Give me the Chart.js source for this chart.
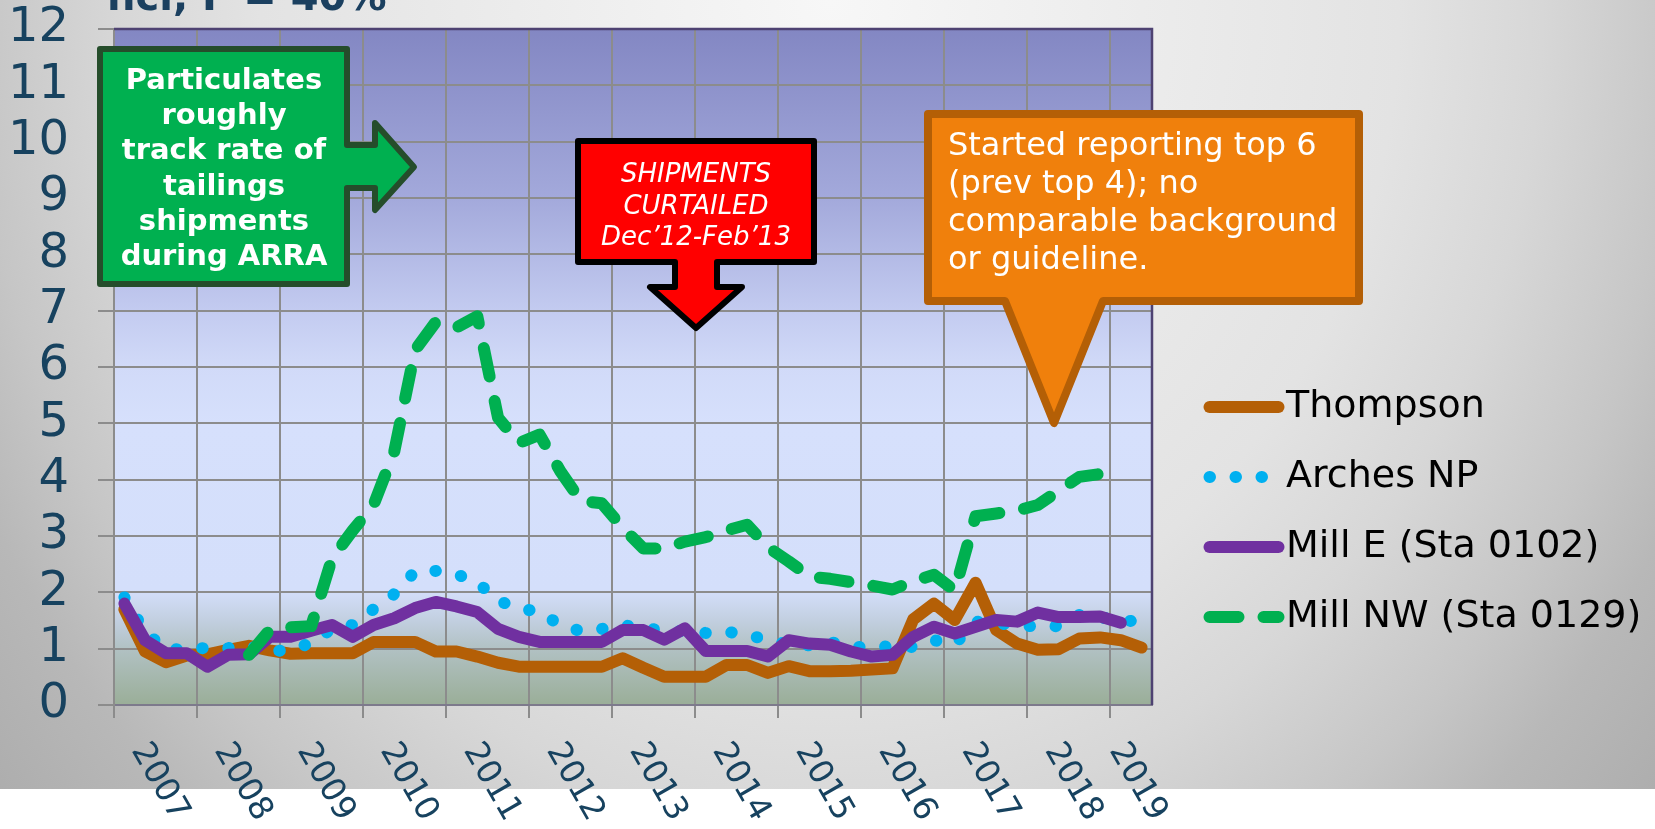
<!DOCTYPE html>
<html>
<head>
<meta charset="utf-8">
<title>Particulates vs tailings shipments</title>
<script src="https://cdn.jsdelivr.net/npm/chart.js@4.4.1/dist/chart.umd.min.js"></script>
<style>
  html, body { margin: 0; padding: 0; background: #fff; }
  #wrap { width: 1655px; height: 829px; }
</style>
</head>
<body>
<div id="wrap"><canvas id="chart" width="1655" height="829"></canvas></div>
<script>
// quarterly samples, plotted at mid-quarter
const quarters = [
  '2007 Q1', '2007 Q2', '2007 Q3', '2007 Q4',
  '2008 Q1', '2008 Q2', '2008 Q3', '2008 Q4',
  '2009 Q1', '2009 Q2', '2009 Q3', '2009 Q4',
  '2010 Q1', '2010 Q2', '2010 Q3', '2010 Q4',
  '2011 Q1', '2011 Q2', '2011 Q3', '2011 Q4',
  '2012 Q1', '2012 Q2', '2012 Q3', '2012 Q4',
  '2013 Q1', '2013 Q2', '2013 Q3', '2013 Q4',
  '2014 Q1', '2014 Q2', '2014 Q3', '2014 Q4',
  '2015 Q1', '2015 Q2', '2015 Q3', '2015 Q4',
  '2016 Q1', '2016 Q2', '2016 Q3', '2016 Q4',
  '2017 Q1', '2017 Q2', '2017 Q3', '2017 Q4',
  '2018 Q1', '2018 Q2', '2018 Q3', '2018 Q4',
  '2019 Q1', '2019 Q2'
];
const yearLabels = ['2007', '2008', '2009', '2010', '2011', '2012', '2013',
  '2014', '2015', '2016', '2017', '2018', '2019'];

const thompson = [
  1.70, 0.95, 0.76, 0.88,  0.90, 0.98, 1.05, 0.97,
  0.91, 0.92, 0.92, 0.92,  1.12, 1.12, 1.12, 0.95,
  0.95, 0.86, 0.75, 0.68,  0.68, 0.68, 0.68, 0.68,
  0.83, 0.66, 0.50, 0.50,  0.50, 0.71, 0.71, 0.57,
  0.69, 0.60, 0.60, 0.61,  0.63, 0.65, 1.52, 1.80,
  1.51, 2.17, 1.33, 1.09,  0.98, 0.99, 1.18, 1.20,
  1.15, 1.02
];
const archesNP = [
  1.91, 1.30, 0.98, 1.00,  1.01, 1.01, 1.05, 0.95,
  0.98, 1.10, 1.35, 1.42,  1.70, 1.97, 2.37, 2.38,
  2.32, 2.18, 1.85, 1.72,  1.65, 1.42, 1.31, 1.35,
  1.42, 1.36, 1.33, 1.30,  1.28, 1.30, 1.25, 1.15,
  1.08, 1.06, 1.12, 1.03,  1.03, 1.04, 1.03, 1.15,
  1.08, 1.48, 1.45, 1.42,  1.39, 1.40, 1.60, 1.55,
  1.52, 1.46
];
const millE = [
  1.80, 1.15, 0.92, 0.92,  0.68, 0.89, 0.90, 1.21,
  1.21, 1.32, 1.42, 1.21,  1.42, 1.54, 1.72, 1.83,
  1.75, 1.65, 1.35, 1.21,  1.12, 1.12, 1.12, 1.12,
  1.33, 1.33, 1.16, 1.36,  0.96, 0.96, 0.96, 0.86,
  1.15, 1.09, 1.07, 0.95,  0.86, 0.89, 1.21, 1.39,
  1.27, 1.39, 1.51, 1.48,  1.64, 1.56, 1.56, 1.57,
  1.46, null
];
const millNW = [
  null, null, null, null,  null, null, 0.89, 1.33,
  1.38, 1.40, 2.60, 3.10,  3.55, 4.50, 6.30, 6.80,
  6.70, 6.90, 5.10, 4.65,  4.80, 4.15, 3.62, 3.58,
  3.15, 2.78, 2.78, 2.90,  2.98, 3.10, 3.20, 2.80,
  2.55, 2.28, 2.24, 2.18,  2.12, 2.05, 2.20, 2.31,
  2.03, 3.35, 3.40, 3.45,  3.55, 3.80, 4.05, 4.10,
  4.00, null
];

const textBlue = '#17425f';

function quarterX(label) {
  const [y, q] = label.split(' Q');
  return Number(y) + (Number(q) - 0.5) / 4;
}
function points(values) {
  return quarters.map((q, i) => ({ x: quarterX(q), y: values[i] }));
}

function polygon(ctx, pts, fill, stroke, width) {
  ctx.save();
  ctx.beginPath();
  pts.forEach((p, i) => i ? ctx.lineTo(p[0], p[1]) : ctx.moveTo(p[0], p[1]));
  ctx.closePath();
  ctx.fillStyle = fill;
  ctx.fill();
  ctx.lineWidth = width;
  ctx.lineJoin = 'round';
  ctx.strokeStyle = stroke;
  ctx.stroke();
  ctx.restore();
}

function textLines(ctx, lines, x, y0, step, font, align) {
  ctx.save();
  ctx.font = font;
  ctx.fillStyle = '#fff';
  ctx.textAlign = align;
  ctx.textBaseline = 'alphabetic';
  lines.forEach((t, i) => ctx.fillText(t, x, y0 + i * step));
  ctx.restore();
}

const decorations = {
  id: 'decorations',
  beforeDraw(chart) {
    const { ctx, chartArea: a, width: W, height: H } = chart;
    // slide background: soft grey radial
    ctx.save();
    ctx.beginPath();
    ctx.rect(0, 0, W, 789);
    ctx.clip();
    ctx.translate(830, 0);
    ctx.scale(1, 1100 / 950);
    const g = ctx.createRadialGradient(0, 0, 0, 0, 0, 950 * 1.25);
    g.addColorStop(0, '#f7f7f7');
    g.addColorStop(0.48, '#e3e3e3');
    g.addColorStop(0.6, '#d7d7d7');
    g.addColorStop(0.72, '#c6c6c6');
    g.addColorStop(0.8, '#b8b8b8');
    g.addColorStop(1, '#a4a4a4');
    ctx.fillStyle = g;
    ctx.fillRect(-830, 0, W, H);
    ctx.restore();
    ctx.fillStyle = '#fff';
    ctx.fillRect(0, 789, W, H - 789);

    // plot area gradient
    const p = ctx.createLinearGradient(0, a.top, 0, a.bottom);
    p.addColorStop(0, '#8387c3');
    p.addColorStop(0.25, '#a3a9db');
    p.addColorStop(0.417, '#c3cbf0');
    p.addColorStop(0.5, '#d1daf8');
    p.addColorStop(0.583, '#d6e0fc');
    p.addColorStop(0.83, '#d4dffb');
    p.addColorStop(0.875, '#c2cfe0');
    p.addColorStop(0.917, '#b1c1c3');
    p.addColorStop(1, '#9aae98');
    ctx.fillStyle = p;
    ctx.fillRect(a.left, a.top, a.right - a.left, a.bottom - a.top);
  },
  afterDraw(chart) {
    const { ctx, chartArea: a } = chart;
    const xs = chart.scales.x;

    // top / right frame of the plot
    ctx.save();
    ctx.strokeStyle = '#4e4272';
    ctx.lineWidth = 2.5;
    ctx.beginPath();
    ctx.moveTo(a.left, a.top);
    ctx.lineTo(a.right, a.top);
    ctx.lineTo(a.right, a.bottom);
    ctx.stroke();
    ctx.restore();

    // rotated year labels (clockwise)
    ctx.save();
    ctx.font = '33px "DejaVu Sans"';
    ctx.fillStyle = textBlue;
    ctx.textAlign = 'left';
    ctx.textBaseline = 'alphabetic';
    yearLabels.forEach(lbl => {
      const x = Math.min(xs.getPixelForValue(Number(lbl)) + 17, 1109);
      ctx.save();
      ctx.translate(x, 750);
      ctx.rotate(60 * Math.PI / 180);
      ctx.fillText(lbl, 0, 0);
      ctx.restore();
    });
    ctx.restore();

    // legend
    const rows = [407, 477, 547, 617];
    ctx.save();
    ctx.font = '38px "DejaVu Sans"';
    ctx.fillStyle = '#000';
    ctx.textBaseline = 'middle';
    chart.data.datasets.forEach((ds, r) => {
      ctx.save();
      ctx.strokeStyle = ds.borderColor;
      ctx.lineWidth = ds.borderWidth;
      ctx.lineCap = 'round';
      ctx.setLineDash(ds.borderDash || []);
      ctx.beginPath();
      ctx.moveTo(1209.5, rows[r]);
      ctx.lineTo(1278.5, rows[r]);
      ctx.stroke();
      ctx.restore();
      ctx.fillText(ds.label, 1286, rows[r]);
    });
    ctx.restore();

    // green call-out with arrow
    polygon(ctx, [[100, 49], [347, 49], [347, 145], [375, 145], [375, 123], [414, 167],
      [375, 210], [375, 188], [347, 188], [347, 284], [100, 284]], '#00b050', '#254d2b', 6);
    textLines(ctx, ['Particulates', 'roughly', 'track rate of', 'tailings', 'shipments', 'during ARRA'],
      224, 89, 35.2, 'bold 29px "DejaVu Sans"', 'center');

    // red call-out pointing down
    polygon(ctx, [[578, 141], [814, 141], [814, 262], [717, 262], [717, 287], [742, 287],
      [696, 328], [650, 287], [675, 287], [675, 262], [578, 262]], '#ff0000', '#000', 6);
    textLines(ctx, ['SHIPMENTS', 'CURTAILED', 'Dec\u201912-Feb\u201913'],
      696, 182, 31.5, 'italic 26px "DejaVu Sans"', 'center');

    // orange speech bubble
    polygon(ctx, [[928, 114], [1359, 114], [1359, 301], [1103, 301], [1054, 423],
      [1005, 301], [928, 301]], '#f0800c', '#b45f06', 8);
    textLines(ctx, ['Started reporting top 6', '(prev top 4); no', 'comparable background', 'or guideline.'],
      948, 155, 38, '32px "DejaVu Sans"', 'left');

    // clipped heading remnant at top edge
    ctx.save();
    ctx.font = 'bold 40px "DejaVu Sans"';
    ctx.fillStyle = '#1b4060';
    ctx.textBaseline = 'alphabetic';
    ctx.fillText('nci, F = 40%', 107, 10);
    ctx.restore();
  }
};

const chart = new Chart(document.getElementById('chart'), {
  type: 'line',
  data: {
    datasets: [
      { label: 'Thompson', data: points(thompson), borderColor: '#b45f06', borderWidth: 12, order: 4 },
      { label: 'Arches NP', data: points(archesNP), borderColor: '#00b0f0', borderWidth: 12,
        borderDash: [0.5, 25.5], order: 3 },
      { label: 'Mill E (Sta 0102)', data: points(millE), borderColor: '#7030a0', borderWidth: 12, order: 2 },
      { label: 'Mill NW (Sta 0129)', data: points(millNW), borderColor: '#00b050', borderWidth: 12,
        borderDash: [29, 25], order: 1 }
    ].map(d => Object.assign({
      pointRadius: 0, tension: 0, fill: false,
      borderCapStyle: 'round', borderJoinStyle: 'round'
    }, d))
  },
  options: {
    responsive: false,
    animation: false,
    devicePixelRatio: 1,
    layout: { padding: { left: 0, top: 29, right: 503, bottom: 111 } },
    plugins: { legend: { display: false }, tooltip: { enabled: false } },
    scales: {
      x: {
        type: 'linear', min: 2007, max: 2019.5,
        afterFit(s) { s.height = 13; s.paddingLeft = 0; s.paddingRight = 0; },
        ticks: { display: false, stepSize: 1, includeBounds: false },
        grid: { color: '#8c8c8c', lineWidth: 2, tickLength: 13 },
        border: { color: '#7d7a8c', width: 2 }
      },
      y: {
        min: 0, max: 12,
        afterFit(s) { s.width = 114; s.paddingTop = 0; s.paddingBottom = 0; },
        ticks: { stepSize: 1, padding: 29, color: textBlue,
          font: { family: 'DejaVu Sans', size: 48, lineHeight: 1 } },
        grid: { color: '#8c8c8c', lineWidth: 2, tickLength: 16 },
        border: { color: '#8c8c8c', width: 2 }
      }
    }
  },
  plugins: [decorations]
});
</script>
</body>
</html>
